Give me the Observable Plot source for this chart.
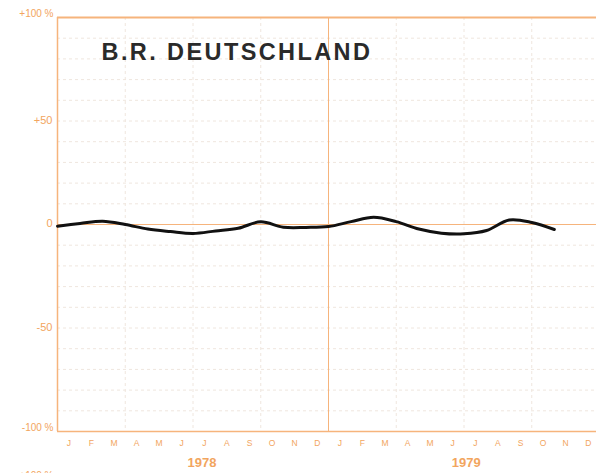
<!DOCTYPE html>
<html>
<head>
<meta charset="utf-8">
<script src="https://cdn.jsdelivr.net/npm/d3@7"></script>
<script src="https://cdn.jsdelivr.net/npm/@observablehq/plot@0.6"></script>
<style>
  html, body { margin: 0; padding: 0; background: #fff; overflow: hidden; }
  #chart { width: 596px; height: 473px; }
</style>
</head>
<body>
<div id="chart"></div>
<script>
// Month labels along the bottom (two years)
const monthLabels = ["J","F","M","A","M","J","J","A","S","O","N","D","J","F","M","A","M","J","J","A","S","O","N","D"];
const yearLabels = ["1978", "1979"];
const yearCenters = [6.4, 18.1];
// Series: month boundary index (0 = start of Jan 1978) and % change
const seriesMonth = [0,1,2,3,4,5,6,7,8,9,10,11,12,13,14,15,16,17,18,19,20,21,22];
const seriesValue = [-0.8,0.5,1.6,0,-2.2,-3.4,-4.3,-3.1,-1.8,1.3,-1.3,-1.4,-1.0,1.4,3.5,1.4,-2.2,-4.2,-4.5,-2.9,2.2,1.0,-2.4];
// Y axis ticks
const yTicks = [100, 50, 0, -50, -100];
const yTickLabels = ["+100 %", "+50", "0", "-50", "-100 %"];
const gridY = [-90,-80,-70,-60,-50,-40,-30,-20,-10,10,20,30,40,50,60,70,80,90];
const gridX = [3,6,9,15,18,21];

const series = seriesMonth.map((m, i) => ({m, v: seriesValue[i]}));
const months = monthLabels.map((l, i) => ({x: i + 0.5, l}));
const years = yearLabels.map((l, i) => ({x: yearCenters[i], l}));
const ticks = yTicks.map((v, i) => ({v, l: yTickLabels[i]}));

const orange = "#f2a55e";
const lineOrange = "#f6b47c";
const font = "Liberation Sans, Arial, sans-serif";

const plot = Plot.plot({
  width: 596,
  height: 473,
  marginLeft: 57,
  marginRight: 0,
  marginTop: 17,
  marginBottom: 42,
  style: {background: "#fff", fontFamily: font, overflow: "visible"},
  x: {domain: [0, 24], range: [57, 599], axis: null},
  y: {domain: [-100, 100], axis: null},
  marks: [
    Plot.ruleY(gridY, {stroke: "#efe6de", strokeDasharray: "3,3", strokeWidth: 1}),
    Plot.ruleX(gridX, {stroke: "#efe6de", strokeDasharray: "3,3", strokeWidth: 1}),
    Plot.ruleX([12], {stroke: lineOrange, strokeWidth: 1}),
    Plot.ruleY([0], {stroke: lineOrange, strokeWidth: 1.2}),
    Plot.ruleY([100], {stroke: lineOrange, strokeWidth: 2}),
    Plot.ruleY([-100], {stroke: lineOrange, strokeWidth: 1.5}),
    Plot.ruleX([0], {stroke: lineOrange, strokeWidth: 1.5}),
    Plot.text(ticks.filter(d => Math.abs(d.v) === 100), {x: 0, y: "v", text: "l", textAnchor: "end", dx: -4, dy: -4, fill: orange, fontSize: 10}),
    Plot.text(ticks.filter(d => Math.abs(d.v) !== 100), {x: 0, y: "v", text: "l", textAnchor: "end", dx: -5, dy: -1, fill: orange, fontSize: 11}),
    Plot.text(months, {x: "x", y: () => -100, text: "l", dy: 12, fill: orange, fontSize: 8.5}),
    Plot.text(years, {x: "x", y: () => -100, text: "l", dy: 31, fill: orange, fontSize: 13, fontWeight: "bold"}),
    Plot.text(["+100 %"], {x: 0, y: () => -100, text: d => d, textAnchor: "end", dx: -4, dy: 44, fill: orange, fontSize: 10}),
    Plot.line(series, {x: "m", y: "v", stroke: "#111", strokeWidth: 3, curve: "catmull-rom", strokeLinejoin: "round", strokeLinecap: "round"}),
    Plot.text(["B.R. DEUTSCHLAND"], {x: 1.95, y: () => 84, text: d => d, textAnchor: "start", fill: "#2a2a2a", fontSize: 23.5, fontWeight: "bold", dy: 2})
  ]
});
document.getElementById("chart").appendChild(plot);
// apply letter spacing to title text
plot.querySelectorAll("text").forEach(t => { if (t.textContent === "B.R. DEUTSCHLAND") t.setAttribute("letter-spacing", "2.4"); });
</script>
</body>
</html>
